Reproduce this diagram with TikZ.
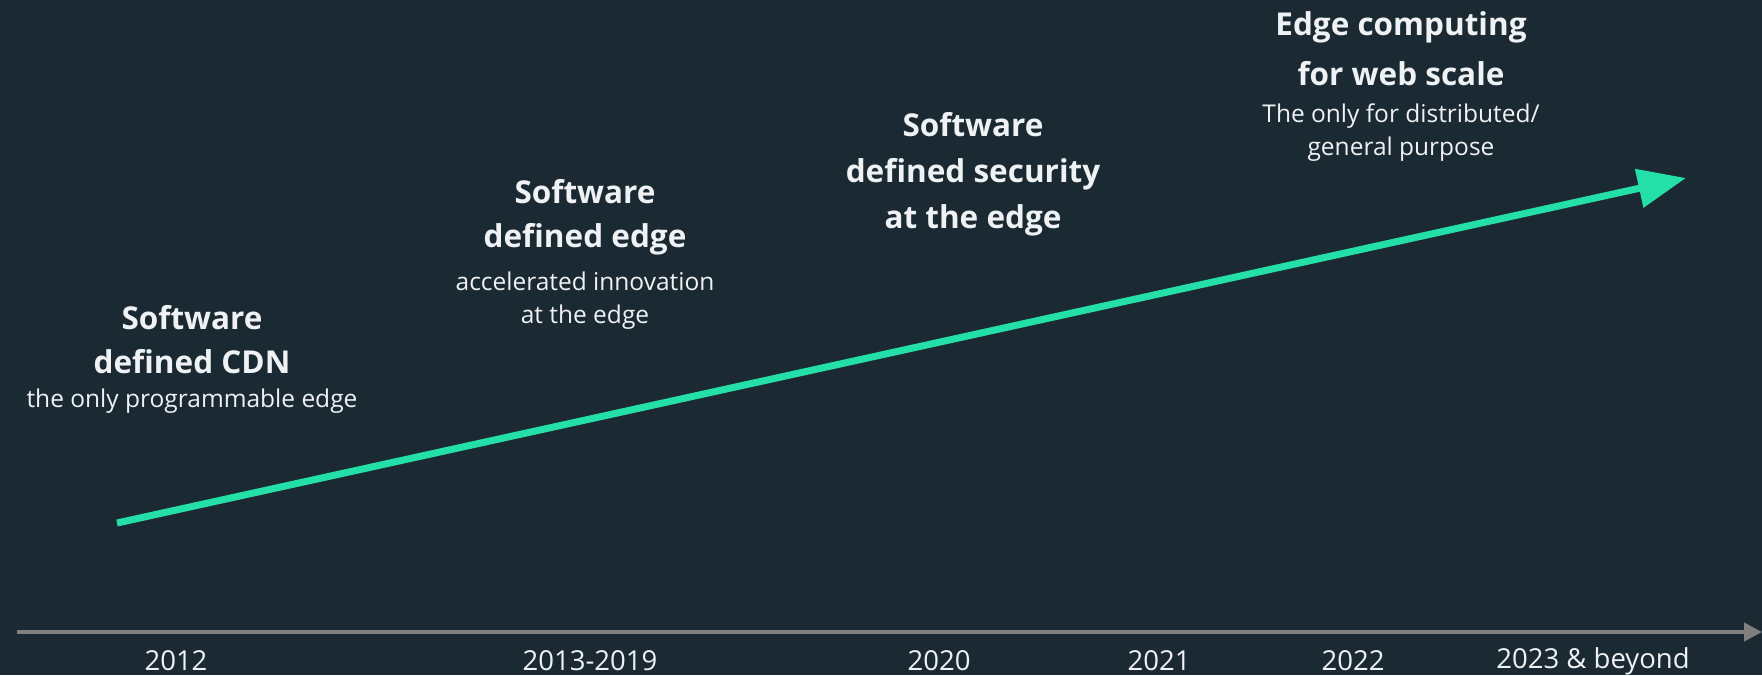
\documentclass[tikz,border=0pt]{standalone}
\usepackage{fontspec}
\setmainfont{Open Sans}
\usetikzlibrary{arrows.meta}
\definecolor{bg}{HTML}{1B2932}
\definecolor{accent}{HTML}{24DFA8}
\definecolor{axisgray}{HTML}{808080}
\definecolor{txt}{HTML}{EEF2F4}
\tikzset{
  head/.style={text=txt, font=\fontsize{31.5}{44}\selectfont\bfseries, align=center, inner sep=0pt},
  sub/.style={text=txt, font=\fontsize{24.5}{34}\selectfont, align=center, inner sep=0pt},
  year/.style={text=txt, font=\fontsize{27.5}{30}\selectfont, inner sep=0pt},
}
\begin{document}
\begin{tikzpicture}[x=1pt,y=-1pt]
\fill[bg] (0,0) rectangle (1762,675);
\useasboundingbox (0,0) rectangle (1762,675);
% axis
\coordinate (ax0) at (17,632);
\coordinate (ax1) at (1762,632);
\draw[axisgray, line width=4pt, -{Triangle[length=18pt,width=18pt]}] (ax0) -- (ax1);
% growth arrow
\coordinate (g0) at (117,523);
\coordinate (g1) at (1686,178);
\draw[accent, line width=7pt, -{Triangle[length=48pt,width=38pt]}] (g0) -- (g1);
% labels
\node[head] (h1a) at (192,318) {Software};
\node[head] (h1b) at (192,362) {defined CDN};
\node[sub]  (s1)  at (192,401) {the only programmable edge};
\node[head] (h2a) at (585,192) {Software};
\node[head] (h2b) at (585,239) {defined edge};
\node[sub]  (s2a) at (585,281) {accelerated innovation};
\node[sub]  (s2b) at (585,317) {at the edge};
\node[head] (h3a) at (973,125) {Software};
\node[head] (h3b) at (973,174) {defined security};
\node[head] (h3c) at (973,220) {at the edge};
\node[head] (h4a) at (1401,27) {Edge computing};
\node[head] (h4b) at (1401,74) {for web scale};
\node[sub]  (s4a) at (1401,116) {The only for distributed/};
\node[sub]  (s4b) at (1401,149) {general purpose};
% years
\node[year] (y1) at (176,661) {2012};
\node[year] (y2) at (590,661) {2013-2019};
\node[year] (y3) at (939,661) {2020};
\node[year] (y4) at (1159,661) {2021};
\node[year] (y5) at (1353,661) {2022};
\node[year] (y6) at (1593,661) {2023 \& beyond};
\end{tikzpicture}
\end{document}
